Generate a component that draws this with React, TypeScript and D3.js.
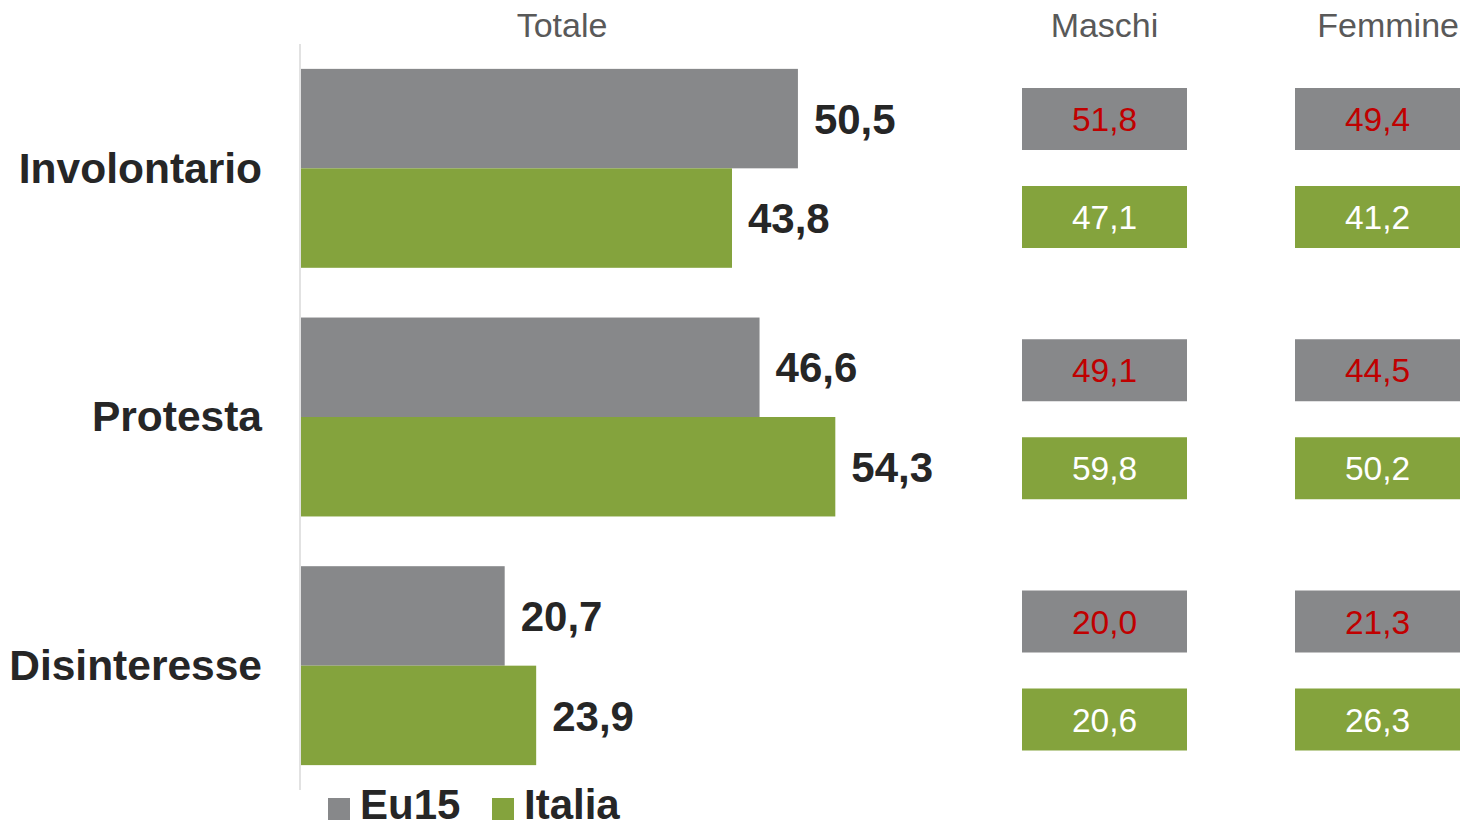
import React from "react";
import * as d3 from "d3";

const categories = ["Involontario", "Protesta", "Disinteresse"];
const series = ["Eu15", "Italia"];
const totaleEu15 = [50.5, 46.6, 20.7];
const totaleItalia = [43.8, 54.3, 23.9];
const maschiEu15 = [51.8, 49.1, 20.0];
const maschiItalia = [47.1, 59.8, 20.6];
const femmineEu15 = [49.4, 44.5, 21.3];
const femmineItalia = [41.2, 50.2, 26.3];
const columnHeaders = ["Totale", "Maschi", "Femmine"];

const W = 1464;
const H = 823;
const GRAY = "#87888a";
const GREEN = "#84a33d";
const DARK = "#262626";
const HEAD = "#595959";
const RED = "#c00000";
const FONT = "'Liberation Sans', Arial, sans-serif";

const fmt = (v: number) => d3.format(".1f")(v).replace(".", ",");

export default function App() {
  const x = d3.scaleLinear().domain([0, 60]).range([301, 891.4]);
  const y = d3
    .scaleBand<string>()
    .domain(categories)
    .range([44, 790])
    .paddingInner(0.2)
    .paddingOuter(0.1);
  const ys = d3.scaleBand<string>().domain(series).range([0, y.bandwidth()]);
  const colorOf = d3.scaleOrdinal<string, string>().domain(series).range([GRAY, GREEN]);

  const totals: Record<string, number[]> = { Eu15: totaleEu15, Italia: totaleItalia };
  const boxCols = [
    { name: "Maschi", values: { Eu15: maschiEu15, Italia: maschiItalia } as Record<string, number[]> },
    { name: "Femmine", values: { Eu15: femmineEu15, Italia: femmineItalia } as Record<string, number[]> },
  ];
  const bx = d3.scalePoint<string>().domain(boxCols.map((c) => c.name)).range([1104.5, 1377.5]);
  const by = d3.scalePoint<string>().domain(categories).range([168, 670.5]);
  const boxOffset = d3.scalePoint<string>().domain(series).range([-49, 49]);
  const boxW = 165;
  const boxH = 62;

  const legendX = d3.scalePoint<string>().domain(series).range([328, 492]);

  return (
    <svg
      width={W}
      height={H}
      style={{ position: "absolute", left: 0, top: 0, display: "block", background: "#fff" }}
      fontFamily={FONT}
    >
      {/* headers */}
      <text x={562} y={37} textAnchor="middle" fontSize={34} fill={HEAD}>
        {columnHeaders[0]}
      </text>
      <text x={bx("Maschi")} y={37} textAnchor="middle" fontSize={34} fill={HEAD}>
        {columnHeaders[1]}
      </text>
      <text x={1459} y={37} textAnchor="end" fontSize={34} fill={HEAD}>
        {columnHeaders[2]}
      </text>

      {/* axis line */}
      <line x1={300} x2={300} y1={44} y2={790} stroke="#d9d9d9" strokeWidth={1.5} />

      {/* bars */}
      {categories.map((c, i) => (
        <g key={c}>
          <text
            x={262}
            y={(y(c) as number) + y.bandwidth() / 2}
            dy="0.34em"
            textAnchor="end"
            fontSize={42.5}
            fontWeight="bold"
            fill={DARK}
          >
            {c}
          </text>
          {series.map((s) => {
            const v = totals[s][i];
            const top = (y(c) as number) + (ys(s) as number);
            return (
              <g key={s}>
                <rect x={x(0)} y={top} width={x(v) - x(0)} height={ys.bandwidth()} fill={colorOf(s)} />
                <text
                  x={x(v) + 16}
                  y={top + ys.bandwidth() / 2}
                  dy="0.36em"
                  fontSize={42}
                  fontWeight="bold"
                  fill={DARK}
                >
                  {fmt(v)}
                </text>
              </g>
            );
          })}
        </g>
      ))}

      {/* boxes */}
      {boxCols.map((col) =>
        categories.map((c, i) =>
          series.map((s) => {
            const cx = bx(col.name) as number;
            const cy = (by(c) as number) + (boxOffset(s) as number);
            const v = col.values[s][i];
            return (
              <g key={col.name + c + s}>
                <rect x={cx - boxW / 2} y={cy - boxH / 2} width={boxW} height={boxH} fill={colorOf(s)} />
                <text
                  x={cx}
                  y={cy}
                  dy="0.36em"
                  textAnchor="middle"
                  fontSize={33.5}
                  fill={s === "Eu15" ? RED : "#ffffff"}
                >
                  {fmt(v)}
                </text>
              </g>
            );
          })
        )
      )}

      {/* legend */}
      {series.map((s) => (
        <g key={s}>
          <rect x={legendX(s)} y={798} width={22} height={22} fill={colorOf(s)} />
          <text x={(legendX(s) as number) + 32} y={819} fontSize={42} fontWeight="bold" fill={DARK}>
            {s}
          </text>
        </g>
      ))}
    </svg>
  );
}
